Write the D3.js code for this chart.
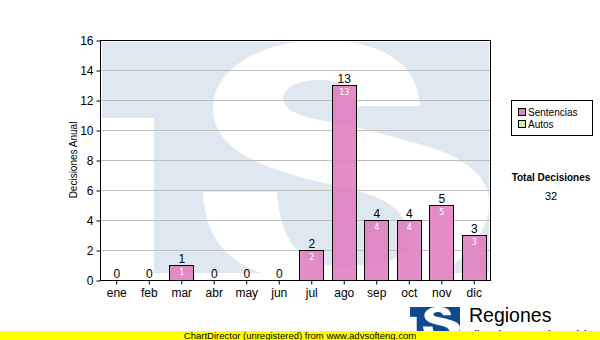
<!DOCTYPE html>
<html>
<head>
<meta charset="utf-8">
<script src="https://cdn.jsdelivr.net/npm/d3@7"></script>
<style>
  body { margin: 0; background: #fff; }
  svg { display: block; font-family: "Liberation Sans", Arial, sans-serif; }
</style>
</head>
<body>
<div id="chart"></div>
<script>
// datos del grafico
const meses = ['ene', 'feb', 'mar', 'abr', 'may', 'jun', 'jul', 'ago', 'sep', 'oct', 'nov', 'dic'];
const sentencias = [0, 0, 1, 0, 0, 0, 2, 13, 4, 4, 5, 3];
const autos = [0, 0, 0, 0, 0, 0, 0, 0, 0, 0, 0, 0];
const yTicks = [0, 2, 4, 6, 8, 10, 12, 14, 16];
const series = ['Sentencias', 'Autos'];
const seriesColors = ['#e080c0', '#d4eca4'];

const width = 600, height = 340;
const plot = {left: 100, right: 490, top: 40, bottom: 280};

const svg = d3.select('#chart').append('svg')
    .attr('width', width)
    .attr('height', height);

const defs = svg.append('defs');

// forma de la "S" del logo (coordenadas de la marca de agua)
const sPath = 'M420,106 C418,68 390,42 325,40 C262,40 213,68 213,108 ' +
    'C213,150 262,168 320,182 C370,193 402,200 408,232 ' +
    'C412,262 380,266 340,266 C300,266 280,240 277,192 L203,192 ' +
    'C205,240 230,268 280,278 C300,285 420,290 440,274 ' +
    'C470,255 490,230 489,200 C488,170 450,150 407,141 ' +
    'C367,128 330,122 310,118 C295,114 283,108 283,98 ' +
    'C285,86 300,80 320,80 C340,80 357,90 357,106 Z';
const wm = {x: 102, y: 42, w: 387, h: 231};

defs.append('clipPath').attr('id', 'wmClip')
    .append('rect')
    .attr('x', wm.x).attr('y', wm.y).attr('width', wm.w).attr('height', wm.h);

function drawLogo(g, blue) {
    g.append('rect')
        .attr('x', wm.x).attr('y', wm.y).attr('width', wm.w).attr('height', wm.h)
        .attr('fill', blue);
    const c = g.append('g').attr('clip-path', 'url(#wmClip)');
    c.append('rect')
        .attr('x', wm.x).attr('y', 118).attr('width', 52).attr('height', 200)
        .attr('fill', '#fff');
    c.append('path').attr('d', sPath).attr('fill', '#fff');
}

// marca de agua
drawLogo(svg.append('g'), '#dfe8f1');

const x = d3.scaleBand()
    .domain(meses)
    .range([plot.left, plot.right])
    .paddingInner(0.26)
    .paddingOuter(0.13);

const y = d3.scaleLinear()
    .domain([0, 16])
    .range([plot.bottom, plot.top]);

// lineas de cuadricula
svg.append('g')
    .selectAll('line')
    .data(yTicks.filter(d => d > 0 && d < 16))
    .enter().append('line')
    .attr('x1', plot.left).attr('x2', plot.right)
    .attr('y1', d => y(d) + 0.5).attr('y2', d => y(d) + 0.5)
    .attr('stroke', '#bfbfbf');

// barras
const data = meses.map((m, i) => ({mes: m, valor: sentencias[i]}));

svg.append('g')
    .selectAll('rect')
    .data(data.filter(d => d.valor > 0))
    .enter().append('rect')
    .attr('x', d => Math.round(x(d.mes)) + 0.5)
    .attr('y', d => y(d.valor) + 0.5)
    .attr('width', Math.round(x.bandwidth()))
    .attr('height', d => y(0) - y(d.valor))
    .attr('fill', seriesColors[0])
    .attr('fill-opacity', 0.9)
    .attr('stroke', '#000');

// etiquetas sobre las barras
svg.append('g')
    .selectAll('text')
    .data(data)
    .enter().append('text')
    .attr('x', d => x(d.mes) + x.bandwidth() / 2 + 0.5)
    .attr('y', d => y(d.valor) - 2)
    .attr('text-anchor', 'middle')
    .attr('font-size', 12)
    .attr('fill', '#000')
    .text(d => d.valor);

// etiquetas dentro de las barras
svg.append('g')
    .selectAll('text')
    .data(data.filter(d => d.valor > 0))
    .enter().append('text')
    .attr('x', d => x(d.mes) + x.bandwidth() / 2 + 0.5)
    .attr('y', d => y(d.valor) + 10)
    .attr('text-anchor', 'middle')
    .attr('font-family', '"DejaVu Sans", sans-serif')
    .attr('font-size', 8)
    .attr('fill', '#fff')
    .text(d => d.valor);

// borde del area
svg.append('rect')
    .attr('x', plot.left + 0.5).attr('y', plot.top + 0.5)
    .attr('width', plot.right - plot.left).attr('height', plot.bottom - plot.top)
    .attr('fill', 'none')
    .attr('stroke', '#000');

// eje y
const yAxis = d3.axisLeft(y)
    .tickValues(yTicks)
    .tickSize(4)
    .tickPadding(3);
const gy = svg.append('g')
    .attr('transform', `translate(${plot.left + 0.5},0.5)`)
    .call(yAxis);
gy.select('.domain').remove();
gy.selectAll('text').attr('font-size', 12).attr('font-family', null).attr('fill', '#000');
gy.selectAll('line').attr('stroke', '#000');

// eje x
const xAxis = d3.axisBottom(x)
    .tickSize(4)
    .tickPadding(4);
const gx = svg.append('g')
    .attr('transform', `translate(0.5,${plot.bottom + 0.5})`)
    .call(xAxis);
gx.select('.domain').remove();
gx.selectAll('text').attr('font-size', 12).attr('font-family', null).attr('fill', '#000');
gx.selectAll('line').attr('stroke', '#000');

// titulo eje y
svg.append('text')
    .attr('transform', `translate(77,${(plot.top + plot.bottom) / 2}) rotate(-90)`)
    .attr('text-anchor', 'middle')
    .attr('font-size', 10)
    .text('Decisiones Anual');

// leyenda
const legend = svg.append('g').attr('transform', 'translate(511,100)');
legend.append('rect')
    .attr('x', 0.5).attr('y', 0.5).attr('width', 81).attr('height', 35)
    .attr('fill', '#fff').attr('stroke', '#000');
const item = legend.selectAll('g.item')
    .data(series)
    .enter().append('g')
    .attr('class', 'item')
    .attr('transform', (d, i) => `translate(7,${8 + i * 12})`);
item.append('rect')
    .attr('x', 0.5).attr('y', 0.5).attr('width', 7).attr('height', 7)
    .attr('fill', (d, i) => seriesColors[i])
    .attr('stroke', '#000');
item.append('text')
    .attr('x', 10).attr('y', 8)
    .attr('font-size', 10)
    .text(d => d);

// total
const total = d3.sum(sentencias) + d3.sum(autos);
svg.append('text')
    .attr('x', 551).attr('y', 181)
    .attr('text-anchor', 'middle')
    .attr('font-size', 10).attr('font-weight', 'bold')
    .text('Total Decisiones');
svg.append('text')
    .attr('x', 551).attr('y', 200)
    .attr('text-anchor', 'middle')
    .attr('font-size', 11)
    .text(total);

// logo inferior
const logo = svg.append('g')
    .attr('transform', `translate(410,307) scale(${50 / wm.w}) translate(${-wm.x},${-wm.y})`);
drawLogo(logo, '#0f4a91');
svg.append('text')
    .attr('x', 469).attr('y', 322)
    .attr('font-size', 19.5)
    .text('Regiones');
svg.append('text')
    .attr('x', 466).attr('y', 337)
    .attr('font-size', 9)
    .attr('font-weight', 'bold')
    .text('Tribunal Supremo de Justicia');

// franja amarilla
svg.append('rect')
    .attr('x', 0).attr('y', 331).attr('width', width).attr('height', 9)
    .attr('fill', '#ffff00');
svg.append('text')
    .attr('x', 300).attr('y', 339)
    .attr('text-anchor', 'middle')
    .attr('font-size', 9.5)
    .text('ChartDirector (unregistered) from www.advsofteng.com');
</script>
</body>
</html>
